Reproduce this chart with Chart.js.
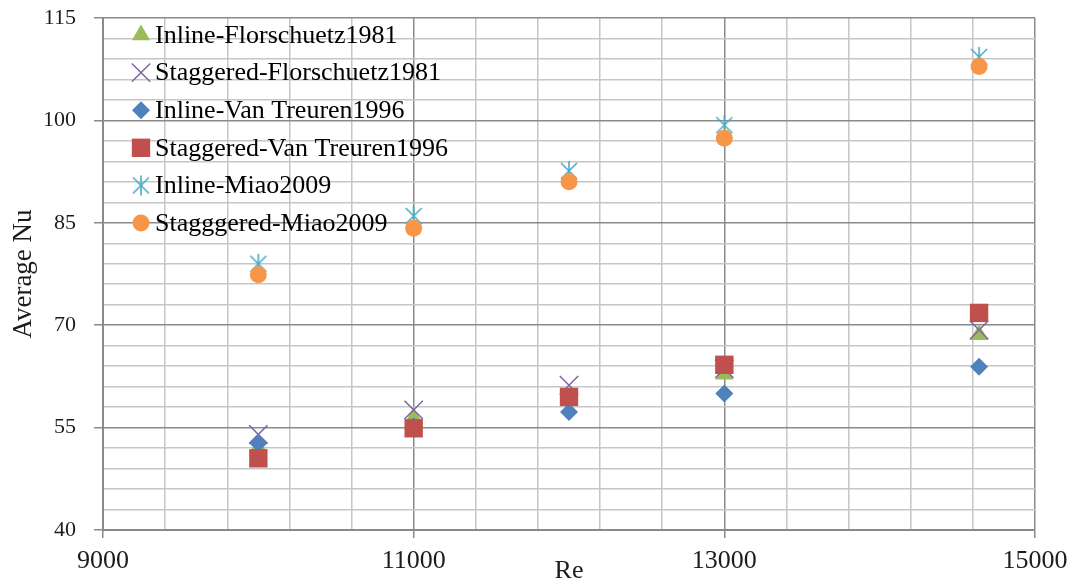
<!DOCTYPE html>
<html>
<head>
<meta charset="utf-8">
<title>Average Nu vs Re</title>
<script src="https://cdn.jsdelivr.net/npm/chart.js@4.4.1/dist/chart.umd.min.js"></script>
<style>
  html, body { margin: 0; padding: 0; background: #fff; }
</style>
</head>
<body>
<canvas id="nuChart" width="1070" height="584"></canvas>
<script>
// ==============================
// DATA
// ==============================
const reValues = [10000, 11000, 12000, 13000, 14640];

const seriesNames = [
  "Inline-Florschuetz1981",
  "Staggered-Florschuetz1981",
  "Inline-Van Treuren1996",
  "Staggered-Van Treuren1996",
  "Inline-Miao2009",
  "Stagggered-Miao2009",
];

const inlineFlorschuetz = [52.0, 56.4, 59.3, 62.8, 68.6];
const staggeredFlorschuetz = [54.0, 57.6, 61.2, 63.6, 69.3];
const inlineVanTreuren = [52.7, 55.2, 57.3, 60.0, 63.9];
const staggeredVanTreuren = [50.5, 54.9, 59.5, 64.2, 71.8];
const inlineMiao = [79.0, 86.0, 92.6, 99.3, 109.3];
const staggeredMiao = [77.4, 84.2, 91.0, 97.4, 107.9];

const xTickLabels = [9000, 11000, 13000, 15000];
const yTickLabels = [40, 55, 70, 85, 100, 115];

// ==============================
// STYLE HELPERS
// ==============================
const SERIF = "'Liberation Serif', 'Times New Roman', serif";
const MAJOR = "#8a8a8a";
const MINOR = "#c6c6c6";

// Excel style star marker (X + vertical bar)
function makeAsterisk(color) {
  const c = document.createElement("canvas");
  c.width = 22;
  c.height = 22;
  const g = c.getContext("2d");
  g.strokeStyle = color;
  g.lineWidth = 1.6;
  g.beginPath();
  g.moveTo(11, 1); g.lineTo(11, 21);
  g.moveTo(3, 3); g.lineTo(19, 19);
  g.moveTo(19, 3); g.lineTo(3, 19);
  g.stroke();
  return c;
}

const markers = [
  { style: "triangle", radius: 10.5, color: "#9bbb59", width: 0 },
  { style: "crossRot", radius: 13, color: "#8064a2", width: 1.5 },
  { style: "rectRot", radius: 9, color: "#4f81bd", width: 0 },
  { style: "rect", radius: 13, color: "#c0504d", width: 0 },
  { style: makeAsterisk("#4bacc6"), radius: 11, color: "#4bacc6", width: 0 },
  { style: "circle", radius: 8.5, color: "#f79646", width: 0 },
];

const allSeries = [
  inlineFlorschuetz,
  staggeredFlorschuetz,
  inlineVanTreuren,
  staggeredVanTreuren,
  inlineMiao,
  staggeredMiao,
];

const datasets = allSeries.map((vals, i) => ({
  label: seriesNames[i],
  data: vals.map((v, k) => ({ x: reValues[k], y: v })),
  pointStyle: markers[i].style,
  pointRadius: markers[i].radius,
  pointHoverRadius: markers[i].radius,
  backgroundColor: markers[i].color,
  borderColor: markers[i].color,
  borderWidth: markers[i].width,
  order: allSeries.length - i, // later series drawn on top
}));

// ==============================
// LEGEND (inside plot, top-left)
// ==============================
const insideLegend = {
  id: "insideLegend",
  afterDraw(chart) {
    const ctx = chart.ctx;
    ctx.save();
    ctx.font = "26px " + SERIF;
    ctx.textBaseline = "middle";
    chart.data.datasets.forEach((ds, i) => {
      const y = 35 + i * 37.6;
      ctx.fillStyle = ds.backgroundColor;
      ctx.strokeStyle = ds.borderColor;
      ctx.lineWidth = ds.borderWidth;
      Chart.helpers.drawPoint(ctx, {
        pointStyle: ds.pointStyle,
        radius: ds.pointRadius,
        rotation: 0,
        borderWidth: ds.borderWidth,
      }, 141, y);
      ctx.fillStyle = "#000";
      ctx.fillText(ds.label, 155, y + 1);
    });
    ctx.restore();
  },
};

// ==============================
// CHART
// ==============================
const isMajorX = (v) => (v - 9000) % 2000 === 0;
const isMajorY = (v) => (v - 40) % 15 === 0;

new Chart(document.getElementById("nuChart"), {
  type: "scatter",
  data: { datasets },
  plugins: [insideLegend],
  options: {
    responsive: false,
    animation: false,
    layout: { padding: 0 },
    plugins: {
      legend: { display: false },
      tooltip: { enabled: false },
    },
    scales: {
      x: {
        type: "linear",
        min: 9000,
        max: 15000,
        afterFit: (scale) => {
          scale.height = 54;
          scale.paddingLeft = 0;
          scale.paddingRight = 35;
        },
        ticks: {
          stepSize: 400,
          autoSkip: false,
          maxRotation: 0,
          minRotation: 0,
          padding: 8,
          color: "#1c1c1c",
          font: { family: SERIF, size: 26 },
          callback: (v) => (xTickLabels.includes(v) ? String(v) : ""),
        },
        grid: {
          color: (c) => (c.tick && isMajorX(c.tick.value) ? MAJOR : MINOR),
          lineWidth: 1.5,
          tickLength: 8,
          tickColor: (c) => (c.tick && isMajorX(c.tick.value) ? MAJOR : "rgba(0,0,0,0)"),
        },
        border: { color: MAJOR, width: 2 },
        title: {
          display: true,
          text: "Re",
          color: "#1c1c1c",
          font: { family: SERIF, size: 26, lineHeight: 1 },
          padding: { top: 0, bottom: 0 },
        },
      },
      y: {
        min: 40,
        max: 115,
        afterFit: (scale) => {
          scale.width = 103;
          scale.paddingTop = 18;
          scale.paddingBottom = 0;
        },
        ticks: {
          stepSize: 3,
          autoSkip: false,
          padding: 18,
          color: "#1c1c1c",
          font: { family: SERIF, size: 22 },
          callback: (v) => (yTickLabels.includes(v) ? String(v) : ""),
        },
        grid: {
          color: (c) => (c.tick && isMajorY(c.tick.value) ? MAJOR : MINOR),
          lineWidth: 1.5,
          tickLength: 9,
          tickColor: (c) => (c.tick && isMajorY(c.tick.value) ? MAJOR : "rgba(0,0,0,0)"),
        },
        border: { color: MAJOR, width: 2 },
        title: {
          display: true,
          text: "Average Nu",
          color: "#1c1c1c",
          font: { family: SERIF, size: 27 },
          padding: { top: 8, bottom: 0 },
        },
      },
    },
  },
});
</script>
</body>
</html>
